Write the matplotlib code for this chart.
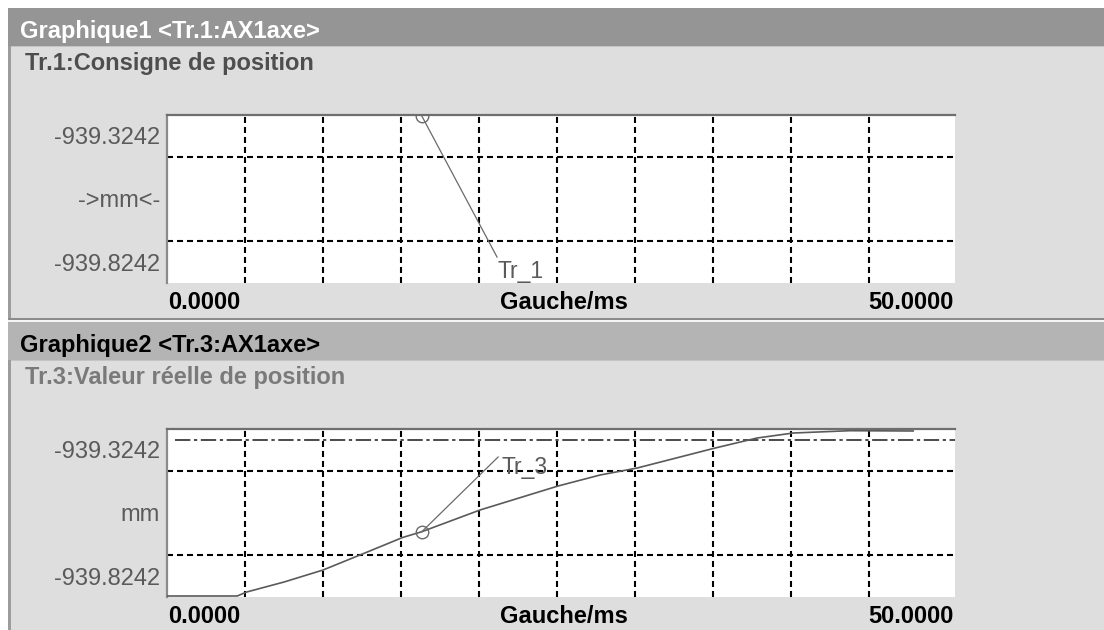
import matplotlib
matplotlib.use("Agg")
import matplotlib.pyplot as plt
from matplotlib.patches import Rectangle

# ---------------- data ----------------
panel_titles = ["Graphique1 <Tr.1:AX1axe>", "Graphique2 <Tr.3:AX1axe>"]
trace_titles = ["Tr.1:Consigne de position", "Tr.3:Valeur réelle de position"]
trace_labels = ["Tr_1", "Tr_3"]
y_tick_values = [-939.3242, -939.5742, -939.8242]
y_tick_labels_1 = ["-939.3242", "->mm<-", "-939.8242"]
y_tick_labels_2 = ["-939.3242", "mm", "-939.8242"]
x_labels = ["0.0000", "Gauche/ms", "50.0000"]
x_range = [0.0, 50.5]
y_range = [-939.9075, -939.2409]
grid_x = [5, 10, 15, 20, 25, 30, 35, 40, 45]
grid_y = [-939.4075, -939.5742, -939.7409]

# Tr.3 actual position curve (ms, mm)
time_ms = [0.0, 4.5, 5.1, 7.5, 10.0, 12.5, 15.1, 16.33, 20.06, 25.06, 27.76,
           30.13, 35.13, 37.82, 40.13, 43.78, 47.82]
actual_pos = [-939.9035, -939.9035, -939.8878, -939.8480, -939.8004, -939.7375,
              -939.6714, -939.6484, -939.5623, -939.4671, -939.4234, -939.3957,
              -939.3163, -939.2766, -939.2568, -939.2476, -939.2488]
ref_level = -939.2846          # dash-dot reference line in graph 2

# cursor markers and label leader ends
cursor_time = [16.33, 16.33]
cursor_pos = [-939.2449, -939.6484]
leader_end_time = [21.15, 21.22]
leader_end_pos = [-939.8044, -939.3520]
label_time = [21.2, 21.45]
label_pos = [-939.860, -939.3917]

# ---------------- layout helpers ----------------
W, H = 1104, 630
fig = plt.figure(figsize=(W / 100, H / 100), dpi=100)
fig.patch.set_facecolor("white")
FONT = ["Liberation Sans", "DejaVu Sans"]


def frect(x0, y0, x1, y1):
    return [x0 / W, 1 - y1 / H, (x1 - x0) / W, (y1 - y0) / H]


def bg(x0, y0, x1, y1, color):
    r = frect(x0, y0, x1, y1)
    fig.add_artist(Rectangle((r[0], r[1]), r[2], r[3], transform=fig.transFigure,
                             facecolor=color, edgecolor="none", zorder=-5))


def ftext(x, y, s, **kw):
    fig.text(x / W, 1 - y / H, s, family=FONT, **kw)


panel_top = [8, 322]
panel_bottom = [320, 630]
bar_colors = ["#959595", "#b4b4b4"]
bar_text_colors = ["white", "black"]
sub_colors = ["#4e4e4e", "#7a7a7a"]

for i in range(2):
    t = panel_top[i]
    bg(8, t, W, t + 38, bar_colors[i])
    bg(8, t + 38, W, panel_bottom[i], "#dedede")
    bg(8, t + 38, W, t + 39, "#c4c4c4")
    bg(8, t + 38, 11, panel_bottom[i], "#9c9c9c")
    ftext(20, t + 30, panel_titles[i], color=bar_text_colors[i],
          fontsize=17, fontweight="bold", va="baseline")
    ftext(25, t + 62, trace_titles[i], color=sub_colors[i],
          fontsize=17, fontweight="bold", va="baseline")
bg(8, 318, W, 320, "#8c8c8c")
bg(8, 320, W, 322, "#f4f4f4")

tick_labels = [y_tick_labels_1, y_tick_labels_2]
plot_tops = [115, 429]
axes = []
for i in range(2):
    top = plot_tops[i]
    ax = fig.add_axes(frect(167, top, 955, top + 168))
    ax.set_facecolor("white")
    ax.set_xlim(x_range)
    ax.set_ylim(y_range)
    for s in ["right", "bottom"]:
        ax.spines[s].set_visible(False)
    ax.spines["top"].set_color("#6e6e6e")
    ax.spines["top"].set_linewidth(1.6)
    ax.spines["left"].set_color("#8a8a8a")
    ax.spines["left"].set_linewidth(1.6)
    ax.set_xticks([])
    ax.set_xticks(grid_x, minor=True)
    ax.set_yticks(y_tick_values)
    ax.set_yticks(grid_y, minor=True)
    ax.set_yticklabels(tick_labels[i], family=FONT, fontsize=17, color="#5a5a5a")
    ax.tick_params(axis="both", which="both", length=0)
    ax.tick_params(axis="y", which="major", pad=5)
    ax.grid(False, which="major")
    ax.grid(True, which="minor", color="black", linewidth=1.5,
            linestyle=(0, (2.9, 1.9)))
    ax.set_axisbelow(True)
    # x labels
    tr = ax.get_xaxis_transform()
    kw = dict(family=FONT, fontsize=17, fontweight="bold", color="black",
              va="top", transform=tr, clip_on=False)
    ax.text(x_range[0] + 0.05, -0.045, x_labels[0], ha="left", **kw)
    ax.text(sum(x_range) / 2 + 0.2, -0.045, x_labels[1], ha="center", **kw)
    ax.text(x_range[1] - 0.1, -0.045, x_labels[2], ha="right", **kw)
    axes.append(ax)

ax1, ax2 = axes

# graph 1: only cursor + leader visible (curve above range)
ax1.plot([cursor_time[0], leader_end_time[0]], [cursor_pos[0], leader_end_pos[0]],
         color="#6a6a6a", linewidth=0.9, zorder=3)
ax1.plot([cursor_time[0]], [cursor_pos[0]], marker="o", markersize=9,
         markerfacecolor="none", markeredgecolor="#6a6a6a", markeredgewidth=1.0,
         zorder=4)
ax1.text(label_time[0], label_pos[0], trace_labels[0], family=FONT, fontsize=16.5,
         color="#5a5a5a", ha="left", va="center", zorder=5)

# graph 2
ax2.axhline(ref_level, xmin=0.01, xmax=1.0, color="#3c3c3c", linewidth=1.3,
            linestyle=(0, (8.5, 2.0, 1.8, 2.0)), zorder=2)
ax2.plot(time_ms, actual_pos, color="#5a5a5a", linewidth=1.2, zorder=3)
ax2.plot([cursor_time[1], leader_end_time[1]], [cursor_pos[1], leader_end_pos[1]],
         color="#6a6a6a", linewidth=0.9, zorder=3)
ax2.plot([cursor_time[1]], [cursor_pos[1]], marker="o", markersize=9,
         markerfacecolor="none", markeredgecolor="#6a6a6a", markeredgewidth=1.0,
         zorder=4)
ax2.text(label_time[1], label_pos[1], trace_labels[1], family=FONT, fontsize=16.5,
         color="#5a5a5a", ha="left", va="center", zorder=5)

fig.savefig("out.png", dpi=100)
